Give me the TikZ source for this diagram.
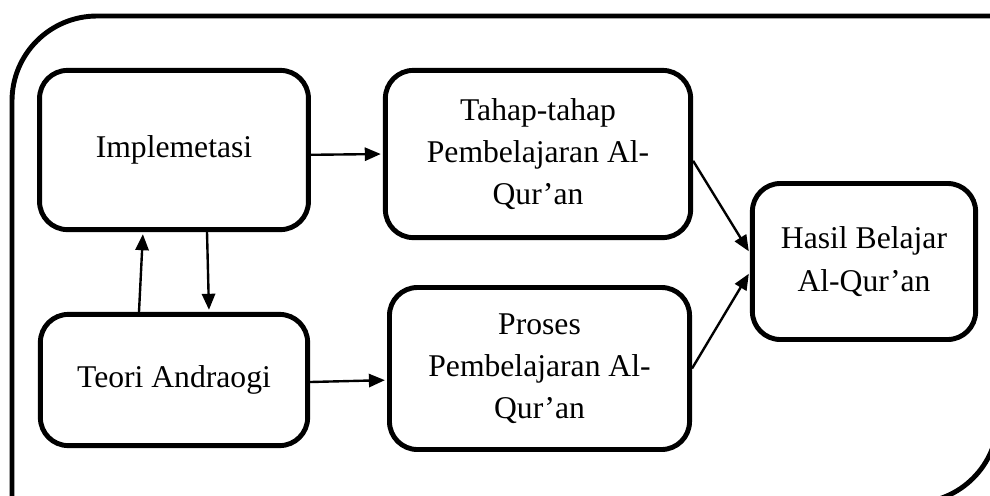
\documentclass[tikz,border=0pt]{standalone}
\usepackage{fontspec}
\setmainfont{Liberation Serif}
\usetikzlibrary{arrows.meta}

\begin{document}
\begin{tikzpicture}[
  x=0.025cm, y=-0.025cm,
  mynode/.style={draw, line width=3.5pt, rounded corners=0.7cm, align=center,
    inner sep=0pt, font=\fontsize{22.5}{30}\selectfont},
  myarrow/.style={line width=1.7pt, shorten >=1.5pt,
    -{Triangle[length=4mm,width=3.3mm]}},
]
\useasboundingbox (0,0) rectangle (990,495);
\clip (0,0) rectangle (990,495);
% outer frame
\draw[line width=3.5pt] (12,520) -- (12,101) .. controls (12,54) and (50,16) .. (97,16)
  -- (998,16) -- (998,418) .. controls (998,465) and (960,503) .. (913,503) -- (0,503);
\node[mynode, minimum width=6.72cm, minimum height=3.98cm] (impl) at (174,150) {Implemetasi};
\node[mynode, minimum width=7.63cm, minimum height=4.18cm] (tahap) at (538,154)
  {Tahap-tahap\\Pembelajaran Al-\\Qur’an};
\node[mynode, minimum width=6.68cm, minimum height=3.28cm] (teori) at (174,380) {Teori Andraogi};
\node[mynode, minimum width=7.5cm, minimum height=4.05cm] (proses) at (539.5,368.5)
  {Proses\\Pembelajaran Al-\\Qur’an};
\node[mynode, minimum width=5.58cm, minimum height=3.9cm] (hasil) at (864,261.5)
  {Hasil Belajar\\Al-Qur’an};
\draw[myarrow] ([yshift=-0.12cm]impl.east) -- (tahap.west);
\draw[myarrow] ([yshift=-0.05cm]teori.east) -- ([yshift=-0.29cm]proses.west);
\draw[myarrow] ([xshift=-0.875cm]teori.north) -- ([xshift=-0.775cm]impl.south);
\draw[myarrow] ([xshift=0.825cm]impl.south) -- ([xshift=0.875cm]teori.north);
\draw[myarrow] ([yshift=-0.17cm]tahap.east) -- ([yshift=0.21cm]hasil.west);
\draw[myarrow] (proses.east) -- ([yshift=-0.26cm]hasil.west);
\end{tikzpicture}
\end{document}
